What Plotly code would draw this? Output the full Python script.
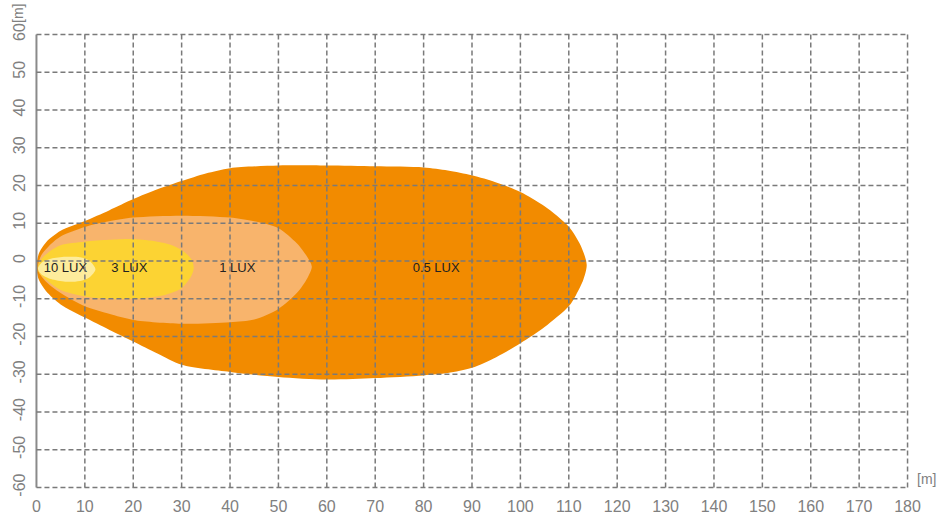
import plotly.graph_objects as go

# Axis ticks
x_ticks = list(range(0, 181, 10))
y_ticks = list(range(-60, 61, 10))
x_tick_labels = [str(v) for v in x_ticks]
y_tick_labels = [str(v) for v in y_ticks]  # plain hyphen minus, as in the reference

# Iso-lux contours (metres), traced around each area
lux05_x = [0, 0.5, 2, 5, 10, 15, 20, 25, 30, 35, 40, 50, 60, 70, 80, 85, 90, 95, 100, 105, 110, 112.5, 113.7,
           113, 111.5, 110, 105, 100, 95, 90, 85, 80, 70, 60, 50, 40, 30, 25, 20, 15, 10, 5, 2, 0.5, 0]
lux05_y = [-1.5, 2, 5, 8, 10.6, 13.4, 16.4, 19, 21.2, 23.2, 24.6, 25.3, 25.3, 25.1, 24.8, 24, 22.7, 20.8, 18.3, 14.5, 9.1, 4, -1,
           -5, -9, -12, -17.5, -21.8, -25.5, -28.3, -29.7, -30.3, -31, -31.4, -30.7, -29.4, -27.5, -24.5, -21.3, -18.2, -15, -11.5, -8, -5, -1.5]

lux1_x = [0.3, 1, 3, 5, 10, 15, 20, 30, 40, 45, 50, 53.8, 56, 56.9,
          56, 53.8, 50, 45, 40, 30, 20, 15, 10, 5, 2, 0.5, 0.3]
lux1_y = [-1.5, 1.5, 4.5, 6.5, 9, 10.5, 11.5, 12, 11.5, 10.5, 8.7, 4.7, 1, -1.5,
          -4.5, -8.5, -12.7, -15.5, -16.2, -16.6, -15.6, -14, -12, -8.5, -5.5, -3, -1.5]

lux3_x = [0.3, 1, 3, 5, 10, 15, 20, 25, 28, 30, 32, 32.5,
          32, 30, 27, 25, 20, 15, 10, 5, 2, 0.5, 0.3]
lux3_y = [-1.5, 0.5, 2.8, 4.2, 5.1, 5.6, 5.8, 5.1, 4.2, 2.9, 0.5, -1.8,
          -4, -7.2, -8.8, -9.4, -10, -10, -9.4, -7.7, -5, -3, -1.5]

lux10_x = [0.3, 1, 3, 6, 9, 11, 12.2, 11, 9, 6, 3, 1, 0.3]
lux10_y = [-2, -0.5, 0.6, 1.1, 1, 0, -2.2, -4.3, -5.3, -5.5, -4.8, -3.5, -2]

labels = ["10 LUX", "3 LUX", "1 LUX", "0.5 LUX"]
label_x = [6, 19.2, 41.5, 82.6]
label_y = [-2.1, -2.1, -2.1, -2.1]

fig = go.Figure()

areas = [
    (lux05_x, lux05_y, "#F28B00"),
    (lux1_x, lux1_y, "#F8B46C"),
    (lux3_x, lux3_y, "#FCD333"),
    (lux10_x, lux10_y, "#FDEC9C"),
]
for xs, ys, col in areas:
    fig.add_trace(go.Scatter(
        x=xs, y=ys, mode="lines", fill="toself", fillcolor=col,
        line=dict(width=0, color=col, shape="spline", smoothing=0.8),
        hoverinfo="skip", showlegend=False,
    ))

fig.add_trace(go.Scatter(
    x=label_x, y=label_y, mode="text", text=labels,
    textfont=dict(family="Liberation Sans, Arial, sans-serif", size=13, color="#222222"),
    hoverinfo="skip", showlegend=False,
))

grid_col = "#7a7a7a"
shapes = []
for xv in x_ticks:
    if xv == 0:
        shapes.append(dict(type="line", xref="x", yref="y", x0=xv, x1=xv, y0=y_ticks[0], y1=y_ticks[-1],
                           line=dict(color="#8a8a8a", width=2), layer="above"))
    else:
        shapes.append(dict(type="line", xref="x", yref="y", x0=xv, x1=xv, y0=y_ticks[0], y1=y_ticks[-1],
                           line=dict(color=grid_col, width=1.5, dash="5px,3px"), layer="above"))
for yv in y_ticks:
    shapes.append(dict(type="line", xref="x", yref="y", x0=x_ticks[0], x1=x_ticks[-1], y0=yv, y1=yv,
                       line=dict(color=grid_col, width=1.5, dash="5px,3px"), layer="above"))

tick_font = dict(family="Liberation Sans, Arial, sans-serif", size=16, color="#808080")
unit_font = dict(family="Liberation Sans, Arial, sans-serif", size=14, color="#808080")

fig.update_layout(
    width=940, height=515,
    margin=dict(l=35, r=31, t=33, b=26),
    paper_bgcolor="white", plot_bgcolor="white",
    shapes=shapes,
    xaxis=dict(range=[-0.3, 180.3], tickvals=x_ticks, ticktext=x_tick_labels, showgrid=False, zeroline=False,
               showline=False, ticks="outside", ticklen=3, tickcolor="rgba(0,0,0,0)", tickfont=tick_font,
               fixedrange=True, automargin=False),
    yaxis=dict(range=[-60.4, 60.4], tickvals=y_ticks, ticktext=y_tick_labels, showgrid=False, zeroline=False,
               showline=False, ticks="outside", ticklen=3, tickcolor="rgba(0,0,0,0)", tickfont=tick_font,
               tickangle=-90, fixedrange=True, automargin=False),
    annotations=[
        dict(text="[m]", xref="paper", yref="paper", x=0, y=1, xanchor="center", yanchor="middle",
             xshift=-17, yshift=19, textangle=-90, showarrow=False, font=unit_font),
        dict(text="[m]", xref="paper", yref="paper", x=1, y=0, xanchor="left", yanchor="bottom",
             xshift=6, yshift=0, showarrow=False, font=unit_font),
    ],
)

fig.write_html("out.html", config={"displayModeBar": False},
               post_script="document.body.style.margin='0';document.body.style.overflow='hidden';")
